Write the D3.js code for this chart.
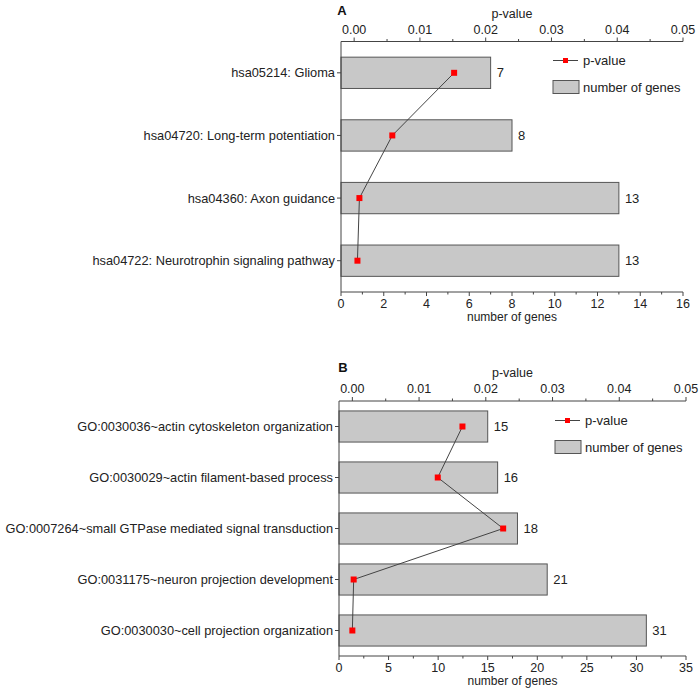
<!DOCTYPE html>
<html><head><meta charset="utf-8">
<script src="https://cdn.jsdelivr.net/npm/d3@7"></script>
<style>
body{margin:0;background:#fff;}
svg{display:block;font-family:"Liberation Sans",Arial,sans-serif;}
</style></head>
<body><svg id="c" width="700" height="691"></svg>
<script>
// Panel A data
const catsA = ["hsa05214: Glioma","hsa04720: Long-term potentiation","hsa04360: Axon guidance","hsa04722: Neurotrophin signaling pathway"];
const genesA = [7, 8, 13, 13];
const pvalA = [0.0152, 0.0058, 0.0008, 0.0005];
const genesTicksA = [0,2,4,6,8,10,12,14,16];
// Panel B data
const catsB = ["GO:0030036~actin cytoskeleton organization","GO:0030029~actin filament-based process","GO:0007264~small GTPase mediated signal transduction","GO:0031175~neuron projection development","GO:0030030~cell projection organization"];
const genesB = [15, 16, 18, 21, 31];
const pvalB = [0.0165, 0.0128, 0.0226, 0.0002, 0.0000];
const genesTicksB = [0,5,10,15,20,25,30,35];
const pTicks = [0.00,0.01,0.02,0.03,0.04,0.05];

const svg = d3.select("#c");

function panel(o){
  const g = svg.append("g");
  const x = d3.scaleLinear().domain([0,o.xmax]).range([o.left,o.right]);
  const xp = d3.scaleLinear().domain([-0.002,0.05]).range([o.left,o.right]);
  const y = d3.scaleBand().domain(o.cats).range([o.top,o.bottom]).paddingInner(o.pad).paddingOuter(o.pad/2);

  // bars
  g.selectAll("rect.bar").data(o.cats).enter().append("rect")
    .attr("x", x(0)).attr("y", d=>y(d))
    .attr("width", (d,i)=>x(o.genes[i])-x(0)).attr("height", y.bandwidth())
    .attr("fill","#c8c8c8").attr("stroke","#555").attr("stroke-width",1);
  g.selectAll("text.val").data(o.cats).enter().append("text")
    .attr("x",(d,i)=>x(o.genes[i])+6).attr("y",d=>y(d)+y.bandwidth()/2)
    .attr("dy","0.35em").attr("font-size",13).attr("fill","#222")
    .text((d,i)=>o.genes[i]);

  // bottom axis
  const minorB = d3.range(0, o.xmax+0.001, o.minorStep);
  g.append("line").attr("x1",o.left).attr("x2",o.right).attr("y1",o.bottom).attr("y2",o.bottom).attr("stroke","#444");
  g.selectAll("line.mb").data(minorB).enter().append("line")
    .attr("x1",d=>x(d)).attr("x2",d=>x(d)).attr("y1",o.bottom).attr("y2",d=>o.bottom + (o.ticks.includes(d)?4:2.5)).attr("stroke","#444");
  g.selectAll("text.tb").data(o.ticks).enter().append("text")
    .attr("x",d=>x(d)).attr("y",o.bottom+16).attr("text-anchor","middle").attr("font-size",12.5).attr("fill","#222").text(d=>d);
  g.append("text").attr("x",(o.left+o.right)/2).attr("y",o.bottom+29).attr("text-anchor","middle").attr("font-size",12).attr("fill","#222").text("number of genes");

  // top axis
  const minorT = d3.range(0, 0.0501, 0.005);
  g.append("line").attr("x1",o.left).attr("x2",o.right).attr("y1",o.top).attr("y2",o.top).attr("stroke","#444");
  g.selectAll("line.mt").data(minorT).enter().append("line")
    .attr("x1",d=>xp(d)).attr("x2",d=>xp(d)).attr("y1",o.top).attr("y2",(d,i)=>o.top-(i%2===0?4:2.5)).attr("stroke","#444");
  g.selectAll("text.tt").data(pTicks).enter().append("text")
    .attr("x",d=>xp(d)).attr("y",o.top-8).attr("text-anchor","middle").attr("font-size",12.5).attr("fill","#222").text(d=>d3.format(".2f")(d));
  g.append("text").attr("x",(o.left+o.right)/2).attr("y",o.top-24).attr("text-anchor","middle").attr("font-size",12.5).attr("fill","#222").text("p-value");

  // left axis
  g.append("line").attr("x1",o.left).attr("x2",o.left).attr("y1",o.top).attr("y2",o.bottom).attr("stroke","#444");
  g.selectAll("line.ly").data(o.cats).enter().append("line")
    .attr("x1",o.left-4).attr("x2",o.left).attr("y1",d=>y(d)+y.bandwidth()/2).attr("y2",d=>y(d)+y.bandwidth()/2).attr("stroke","#444");
  g.selectAll("text.ly").data(o.cats).enter().append("text")
    .attr("x",o.left-6).attr("y",d=>y(d)+y.bandwidth()/2).attr("dy","0.35em").attr("text-anchor","end")
    .attr("font-size",12.8).attr("fill","#222").text(d=>d);

  // p-value line
  const line = d3.line().x((d,i)=>xp(o.pvals[i])).y(d=>y(d)+y.bandwidth()/2);
  g.append("path").datum(o.cats).attr("d",line).attr("fill","none").attr("stroke","#444").attr("stroke-width",1);
  g.selectAll("rect.pt").data(o.cats).enter().append("rect")
    .attr("x",(d,i)=>xp(o.pvals[i])-3).attr("y",d=>y(d)+y.bandwidth()/2-3)
    .attr("width",6).attr("height",6).attr("fill","#ff0000");

  // legend
  const lx = o.legX, ly = o.legY;
  g.append("line").attr("x1",lx).attr("x2",lx+25).attr("y1",ly).attr("y2",ly).attr("stroke","#444");
  g.append("rect").attr("x",lx+10).attr("y",ly-2.5).attr("width",5).attr("height",5).attr("fill","#ff0000");
  g.append("text").attr("x",lx+30).attr("y",ly).attr("dy","0.35em").attr("font-size",13).attr("fill","#222").text("p-value");
  g.append("rect").attr("x",lx).attr("y",ly+20).attr("width",26).attr("height",13).attr("fill","#c8c8c8").attr("stroke","#555");
  g.append("text").attr("x",lx+30).attr("y",ly+26.5).attr("dy","0.35em").attr("font-size",13).attr("fill","#222").text("number of genes");

  // panel letter
  g.append("text").attr("x",o.letterX).attr("y",o.letterY).attr("font-size",13).attr("font-weight","bold").attr("text-anchor","middle").attr("dy","0.35em").attr("fill","#111").text(o.letter);
}

panel({cats:catsA, genes:genesA, pvals:pvalA, ticks:genesTicksA, xmax:16, minorStep:1,
  left:341, right:683, top:41.5, bottom:292, pad:0.5, legX:553, legY:60.5, letter:"A", letterX:342, letterY:10});
panel({cats:catsB, genes:genesB, pvals:pvalB, ticks:genesTicksB, xmax:35, minorStep:2.5,
  left:339, right:686, top:401, bottom:656, pad:0.39, legX:555, legY:420.5, letter:"B", letterX:343, letterY:367});
</script></body></html>
